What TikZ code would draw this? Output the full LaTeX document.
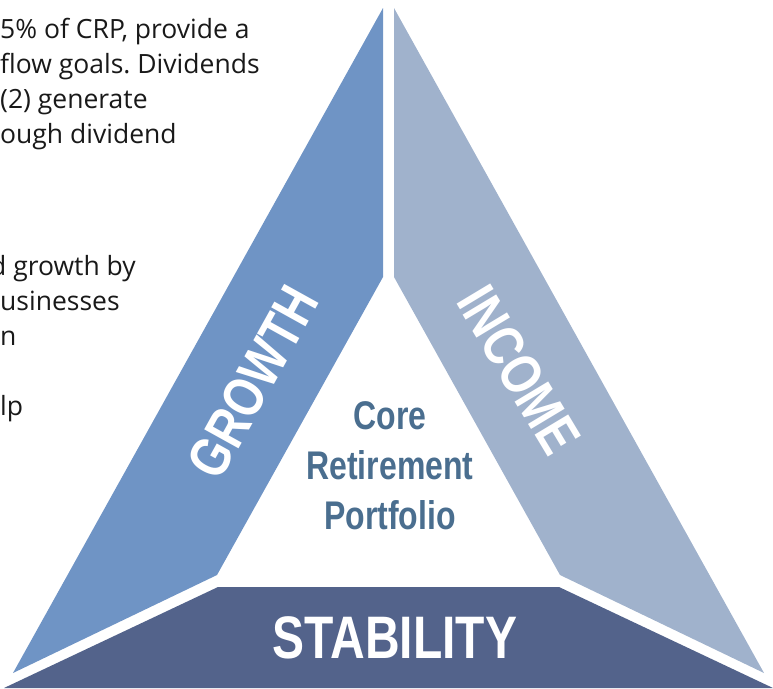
\documentclass[tikz,border=0pt]{standalone}
\usepackage{fontspec}
\usepackage{xcolor}
\usepackage{tikz}
\setmainfont{Open Sans}
\newfontfamily\headfont[FakeStretch=0.8]{Liberation Sans}
\definecolor{growthblue}{HTML}{6F94C5}
\definecolor{incomeblue}{HTML}{A0B2CC}
\definecolor{stabilityblue}{HTML}{53638B}
\definecolor{coretext}{HTML}{4A6E8F}
\frenchspacing

\begin{document}
\begin{tikzpicture}[x=1pt, y=-1pt,
  body/.style={anchor=north west, inner sep=0pt, align=left, text=black!90, font=\fontsize{26.5}{35}\selectfont},
  band/.style={text=white, inner sep=0pt, font=\headfont\bfseries\fontsize{57}{57}\selectfont},
  core/.style={align=center, inner sep=0pt, text=coretext, font=\headfont\bfseries\fontsize{40}{50}\selectfont}
]
\useasboundingbox (0,0) rectangle (773,688);
\clip (0,0) rectangle (773,688);

% corners of the three bands
\coordinate (gtop) at (383,8);
\coordinate (gmid) at (383,277);
\coordinate (gin) at (217,575);
\coordinate (gout) at (13,673);
\coordinate (itop) at (394,8);
\coordinate (imid) at (394,277);
\coordinate (iin) at (560,575);
\coordinate (iout) at (764,673);
\coordinate (stl) at (218,587);
\coordinate (str) at (559,587);
\coordinate (sbr) at (773,688);
\coordinate (sbl) at (4,688);

\fill[growthblue] (gtop) -- (gmid) -- (gin) -- (gout) -- cycle;
\fill[incomeblue] (itop) -- (imid) -- (iin) -- (iout) -- cycle;
\fill[stabilityblue] (stl) -- (str) -- (sbr) -- (sbl) -- cycle;

% text running in from the left
\node[body] (incometext) at (0,18) {5\% of CRP, provide a\\flow goals. Dividends\\(2) generate\\ough dividend};
\node[body] (growthtext) at (0,255) {\hspace*{-10pt}d growth by\\usinesses\\n\\[35pt]lp};

% band labels
\node[band, rotate=61] (growth) at (253,382) {GROWTH};
\node[band, rotate=-59] (income) at (519,370) {INCOME};
\node[band, font=\headfont\bfseries\fontsize{60}{60}\selectfont] (stability) at (395,638) {STABILITY};
\node[core] (crp) at (390,466) {Core\\Retirement\\Portfolio};
\end{tikzpicture}
\end{document}
